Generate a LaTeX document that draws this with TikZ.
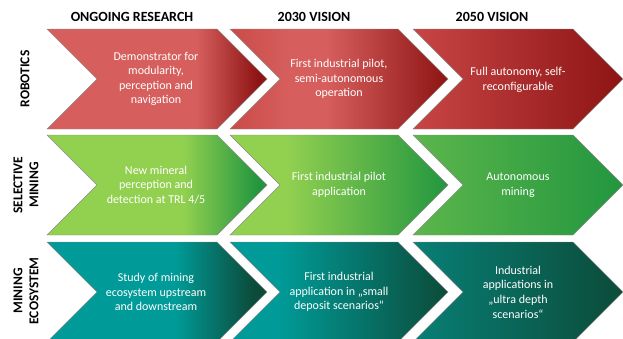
\documentclass[tikz,border=0pt]{standalone}
\usepackage{fontspec}
\setmainfont{Carlito}

% palette
\definecolor{redA}{HTML}{D65F5D}
\definecolor{redB}{HTML}{CB4B48}
\definecolor{redC}{HTML}{C84545}
\definecolor{redDk}{HTML}{8E1414}
\definecolor{grnA}{HTML}{92D050}
\definecolor{grnB}{HTML}{5CB64B}
\definecolor{grnDk}{HTML}{22963F}
\definecolor{tealA}{HTML}{009B98}
\definecolor{tealB}{HTML}{087F76}
\definecolor{tealDk}{HTML}{0C4B39}

% horizontal fills: 25bp = left edge, 75bp = right edge of each shape
\pgfdeclarehorizontalshading{redone}{100bp}{color(0bp)=(redA); color(59bp)=(redA); color(73bp)=(redDk); color(100bp)=(redDk)}
\pgfdeclarehorizontalshading{redtwo}{100bp}{color(0bp)=(redB); color(25bp)=(redB); color(39bp)=(redA); color(47bp)=(redA); color(75bp)=(redDk); color(100bp)=(redDk)}
\pgfdeclarehorizontalshading{redthree}{100bp}{color(0bp)=(redC); color(25bp)=(redC); color(75bp)=(redDk); color(100bp)=(redDk)}
\pgfdeclarehorizontalshading{grnone}{100bp}{color(0bp)=(grnA); color(56bp)=(grnA); color(73bp)=(grnDk); color(100bp)=(grnDk)}
\pgfdeclarehorizontalshading{grntwo}{100bp}{color(0bp)=(grnA); color(38bp)=(grnA); color(75bp)=(grnDk); color(100bp)=(grnDk)}
\pgfdeclarehorizontalshading{grnthree}{100bp}{color(0bp)=(grnB); color(25bp)=(grnB); color(75bp)=(grnDk); color(100bp)=(grnDk)}
\pgfdeclarehorizontalshading{tealone}{100bp}{color(0bp)=(tealA); color(54bp)=(tealA); color(72bp)=(tealDk); color(100bp)=(tealDk)}
\pgfdeclarehorizontalshading{tealtwo}{100bp}{color(0bp)=(tealA); color(36bp)=(tealA); color(75bp)=(tealDk); color(100bp)=(tealDk)}
\pgfdeclarehorizontalshading{tealthree}{100bp}{color(0bp)=(tealB); color(25bp)=(tealB); color(75bp)=(tealDk); color(100bp)=(tealDk)}

% chevron: left x, centre y, body width, shading
\newcommand\chevronshape[4]{%
  \shadedraw[shading=#4, draw=black!45, line width=0.4pt]
    (#1,#2-50) -- ++(#3,0) -- ++(50,50) -- ++(-50,50) -- ++(-#3,0) -- ++(50,-50) -- cycle;}

\tikzset{
  head/.style={font=\fontsize{14}{16}\selectfont\bfseries, text=black},
  rowlabel/.style={font=\fontsize{13.5}{16}\selectfont\bfseries, text=black, rotate=90, align=center},
  body/.style={font=\fontsize{12}{14.6}\selectfont, text=white, align=center},
}

\begin{document}
\begin{tikzpicture}[x=1pt, y=-1pt]
\useasboundingbox (0,0) rectangle (623,338);
\clip (0,0) rectangle (623,338);

% column headings
\node[head] (h1) at (132,17) {ONGOING RESEARCH};
\node[head] (h2) at (314,17) {2030 VISION};
\node[head] (h3) at (492,17) {2050 VISION};

% row headings
\node[rowlabel] (r1) at (25,79) {ROBOTICS};
\node[rowlabel] (r2) at (26,185) {SELECTIVE\\MINING};
\node[rowlabel] (r3) at (26,291) {MINING\\ECOSYSTEM};

% robotics
\chevronshape{47}{79}{170}{redone}
\chevronshape{230}{79}{168}{redtwo}
\chevronshape{413}{79}{160}{redthree}
\node[body] (a1) at (156,79) {Demonstrator for\\modularity,\\perception and\\navigation};
\node[body] (a2) at (339,79) {First industrial pilot,\\semi-autonomous\\operation};
\node[body] (a3) at (518,80) {Full autonomy, self-\\reconfigurable};

% selective mining
\chevronshape{47}{185}{170}{grnone}
\chevronshape{230}{185}{168}{grntwo}
\chevronshape{413}{185}{160}{grnthree}
\node[body] (b1) at (156,185) {New mineral\\perception and\\detection at TRL 4/5};
\node[body] (b2) at (339,185) {First industrial pilot\\application};
\node[body] (b3) at (518,185) {Autonomous\\mining};

% mining ecosystem
\chevronshape{47}{292}{170}{tealone}
\chevronshape{230}{292}{168}{tealtwo}
\chevronshape{413}{292}{160}{tealthree}
\node[body] (c1) at (156,292) {Study of mining\\ecosystem upstream\\and downstream};
\node[body] (c2) at (339,292) {First industrial\\application in „small\\deposit scenarios“};
\node[body] (c3) at (518,292) {Industrial\\applications in\\„ultra depth\\scenarios“};
\end{tikzpicture}
\end{document}
